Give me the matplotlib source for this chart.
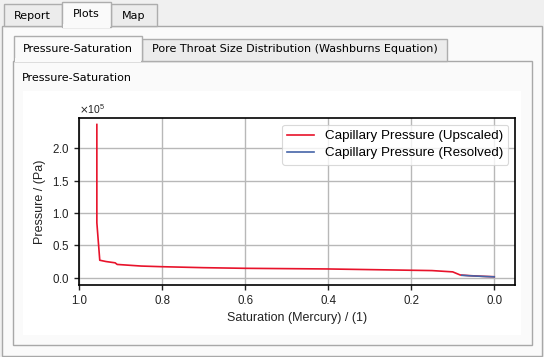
import matplotlib
matplotlib.use("Agg")
import matplotlib.pyplot as plt
from matplotlib.patches import Rectangle
from matplotlib.ticker import ScalarFormatter

# Capillary pressure curves (pressure in units of 1e5 Pa)
sat_upscaled = [0.957, 0.957, 0.950, 0.935, 0.913, 0.908, 0.85, 0.80, 0.70, 0.60,
                0.50, 0.40, 0.30, 0.20, 0.15, 0.10, 0.082, 0.06, 0.03, 0.0]
p_upscaled = [2.37, 0.85, 0.27, 0.25, 0.23, 0.205, 0.18, 0.17, 0.155, 0.145,
              0.14, 0.135, 0.125, 0.115, 0.11, 0.09, 0.042, 0.032, 0.022, 0.015]
sat_resolved = [0.078, 0.06, 0.04, 0.02, 0.0]
p_resolved = [0.037, 0.030, 0.024, 0.018, 0.013]

main_tabs = ["Report", "Plots", "Map"]
plot_tabs = ["Pressure-Saturation", "Pore Throat Size Distribution (Washburns Equation)"]
labels = ["Capillary Pressure (Upscaled)", "Capillary Pressure (Resolved)"]

W, H = 544, 357
fig = plt.figure(figsize=(W / 100, H / 100), dpi=100)
fig.patch.set_facecolor("#f0f0f0")

GUI_FONT = "DejaVu Sans"
PLOT_FONT = "Liberation Sans"


def box(x0, y0, x1, y1, fc, ec, z=1, lw=1.0):
    # pixel coords with origin top-left
    r = Rectangle((x0 / W, 1 - y1 / H), (x1 - x0) / W, (y1 - y0) / H,
                  transform=fig.transFigure, facecolor=fc, edgecolor=ec,
                  linewidth=lw, zorder=z)
    fig.add_artist(r)


def label(x, y, s, size=8.0, ha="center"):
    fig.text(x / W, 1 - y / H, s, ha=ha, va="center", fontsize=size,
             family=GUI_FONT, color="#000000", zorder=10)


# outer tab widget
box(1.5, 25.5, 541.5, 355.5, "#fafafa", "#a8a8a8")
box(3.5, 4.5, 62, 25.5, "#ececec", "#adadad", z=2)
box(111, 4.5, 157, 25.5, "#ececec", "#adadad", z=2)
box(62, 1.5, 111, 26.5, "#fafafa", "#adadad", z=3)
box(63, 24, 110, 27.5, "#fafafa", "none", z=4, lw=0)
label(32.5, 16, main_tabs[0])
label(86.5, 14, main_tabs[1])
label(134, 16, main_tabs[2])

# inner tab widget
box(12.5, 60.5, 531.5, 344.5, "#fafafa", "#a8a8a8", z=2)
box(142, 38.5, 446.5, 60.5, "#ececec", "#adadad", z=3)
box(13.5, 35.5, 142, 61, "#fafafa", "#adadad", z=4)
box(14.5, 58, 141, 62, "#fafafa", "none", z=5, lw=0)
label(77.5, 49, plot_tabs[0])
label(295, 49.5, plot_tabs[1])
label(22, 78, plot_tabs[0], ha="left")

# white canvas of the plot widget
box(23, 91, 521, 335, "#ffffff", "none", z=6, lw=0)

ax = fig.add_axes([79 / W, 1 - 285 / H, (515 - 79) / W, (285 - 118) / H], zorder=20)
ax.set_facecolor("white")
ax.plot(sat_upscaled, [v * 1e5 for v in p_upscaled], color="#e8132b", lw=1.2,
        label=labels[0])
ax.plot(sat_resolved, [v * 1e5 for v in p_resolved], color="#4565a8", lw=1.2,
        label=labels[1])

ax.set_xlim(1.0, -0.05)
ax.set_ylim(-0.113e5, 2.47e5)
ax.set_xticks([1.0, 0.8, 0.6, 0.4, 0.2, 0.0])
ax.set_yticks([0, 0.5e5, 1.0e5, 1.5e5, 2.0e5])
fmt = ScalarFormatter(useMathText=True)
fmt.set_powerlimits((0, 0))
ax.yaxis.set_major_formatter(fmt)
ax.grid(True, color="#b8b8b8", lw=1.0)
ax.set_axisbelow(True)
for sp in ax.spines.values():
    sp.set_linewidth(1.2)
    sp.set_color("black")
ax.tick_params(direction="out", length=3.5, width=1.0, labelsize=8.3,
               colors="#222222")
for t in ax.get_xticklabels() + ax.get_yticklabels():
    t.set_family(PLOT_FONT)
ax.yaxis.get_offset_text().set_fontsize(7.5)
ax.yaxis.get_offset_text().set_family(PLOT_FONT)

ax.set_xlabel("Saturation (Mercury) / (1)", fontsize=9, family=PLOT_FONT,
              color="#222222", labelpad=4)
ax.set_ylabel("Pressure / (Pa)", fontsize=9, family=PLOT_FONT,
              color="#222222", labelpad=4)

leg = ax.legend(loc="upper right", prop={"family": PLOT_FONT, "size": 9.6},
                handlelength=2.0, frameon=True, fancybox=True,
                borderaxespad=0.5, labelspacing=0.35)
leg.get_frame().set_edgecolor("#d0d0d0")
leg.get_frame().set_linewidth(0.8)

fig.savefig("out.png", dpi=100, facecolor=fig.get_facecolor())
